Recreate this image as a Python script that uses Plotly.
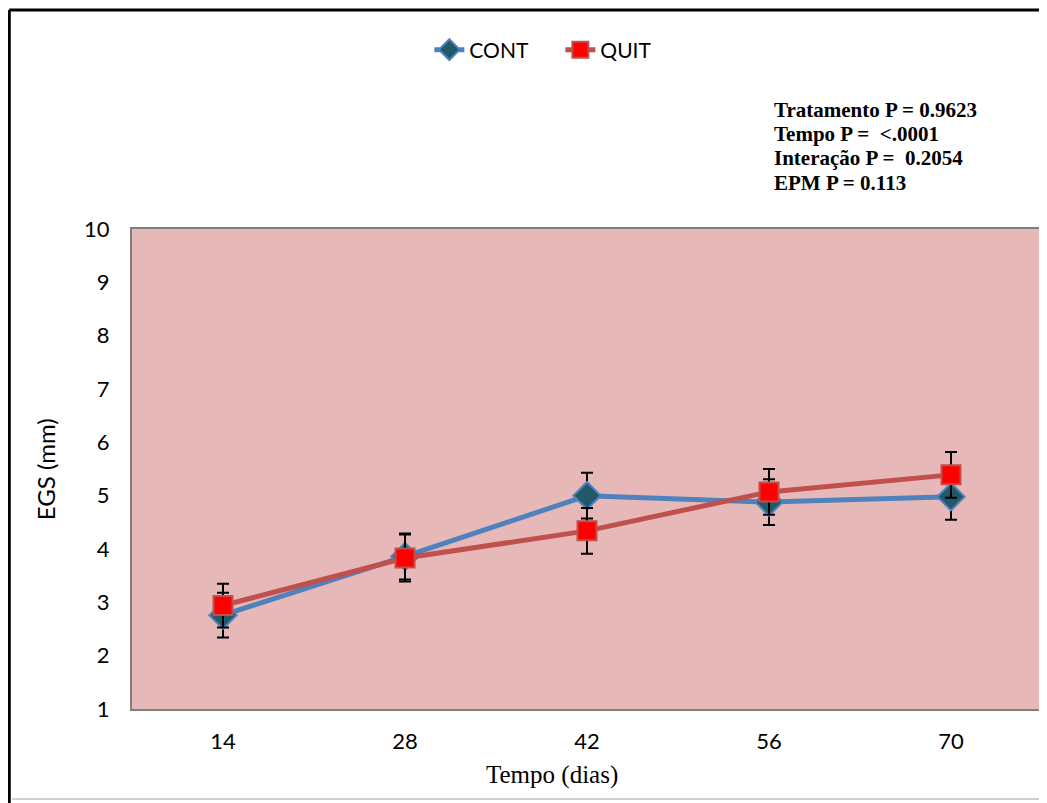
import plotly.graph_objects as go

days = ["14", "28", "42", "56", "70"]
cont = [2.76, 3.86, 5.00, 4.88, 4.98]
cont_err = [0.42, 0.43, 0.43, 0.43, 0.43]
quit_ = [2.94, 3.83, 4.34, 5.07, 5.39]
quit_err = [0.41, 0.44, 0.43, 0.43, 0.43]

stats_text = ["Tratamento P = 0.9623", "Tempo P =  <.0001",
              "Interação P =  0.2054", "EPM P = 0.113"]
stats_y = [110, 134, 158, 183]

OFF = 8  # page body margin
W, H = 1047 - OFF, 803 - OFF
L, T = 132 - OFF, 229 - OFF
R = W - (1044 - OFF)
B = H - (709 - OFF)
pw, ph = W - L - R, H - T - B

def px(xpix):
    return (xpix - OFF - L) / pw

def py(ypix):
    return (H - B - (ypix - OFF)) / ph

fig = go.Figure()
fig.add_trace(go.Scatter(
    x=days, y=cont, name="CONT", mode="lines+markers",
    line=dict(color="#4F81BD", width=5),
    marker=dict(symbol="diamond", size=21, color="#215968",
                line=dict(color="#4F81BD", width=2)),
    error_y=dict(type="data", array=cont_err, color="black", thickness=2, width=6),
))
fig.add_trace(go.Scatter(
    x=days, y=quit_, name="QUIT", mode="lines+markers",
    line=dict(color="#C0504D", width=5),
    marker=dict(symbol="square", size=19, color="#FF0000",
                line=dict(color="#C0504D", width=2)),
    error_y=dict(type="data", array=quit_err, color="black", thickness=2, width=6),
))

sans = "Lato, 'Open Sans', sans-serif"
serif = "'Liberation Serif', 'Times New Roman', serif"
tick_font = dict(family=sans, size=22, color="black")

fig.update_layout(
    width=W, height=H,
    margin=dict(l=L, r=R, t=T, b=B),
    paper_bgcolor="white",
    plot_bgcolor="#E6B8B7",
    showlegend=True,
    legend=dict(orientation="h", x=px(430), xanchor="left", y=py(50), yanchor="middle",
                font=dict(family=sans, size=21, color="black"),
                entrywidth=86, entrywidthmode="pixels",
                bgcolor="rgba(0,0,0,0)"),
    xaxis=dict(type="category", range=[-0.5, 4.5], showgrid=False, zeroline=False, ticks="",
               tickfont=tick_font, showline=True, linecolor="#7F7F7F", linewidth=2,
               mirror=True, ticklabelstandoff=12),
    yaxis=dict(range=[1, 10], dtick=1, showgrid=False, zeroline=False, ticks="",
               tickfont=tick_font, showline=True, linecolor="#7F7F7F", linewidth=2,
               mirror=True, ticklabelstandoff=16),
)

annotations = []
for s, yy in zip(stats_text, stats_y):
    annotations.append(dict(
        text="<b>%s</b>" % s, x=px(773), y=py(yy), xref="paper", yref="paper",
        xanchor="left", yanchor="middle", align="left", showarrow=False,
        font=dict(family=serif, size=21, color="black")))
annotations.append(dict(text="Tempo (dias)", x=px(553), y=py(775), xref="paper", yref="paper",
                        xanchor="center", yanchor="middle", showarrow=False,
                        font=dict(family=serif, size=25, color="black")))
annotations.append(dict(text="EGS (mm)", x=px(45), y=py(469), xref="paper", yref="paper",
                        xanchor="center", yanchor="middle", showarrow=False, textangle=-90,
                        font=dict(family=sans, size=24, color="black")))
fig.update_layout(annotations=annotations)

# outer chart frame: black top/left, faint shadow bottom
fig.add_shape(type="line", xref="paper", yref="paper",
              x0=px(9), y0=py(10), x1=px(1070), y1=py(10),
              line=dict(color="black", width=3), layer="below")
fig.add_shape(type="line", xref="paper", yref="paper",
              x0=px(9), y0=py(10), x1=px(9), y1=py(803),
              line=dict(color="black", width=3), layer="below")
fig.add_shape(type="line", xref="paper", yref="paper",
              x0=px(12), y0=py(799), x1=px(1070), y1=py(799),
              line=dict(color="#D0D0D0", width=2), layer="below")

fig.write_html("out.html")
